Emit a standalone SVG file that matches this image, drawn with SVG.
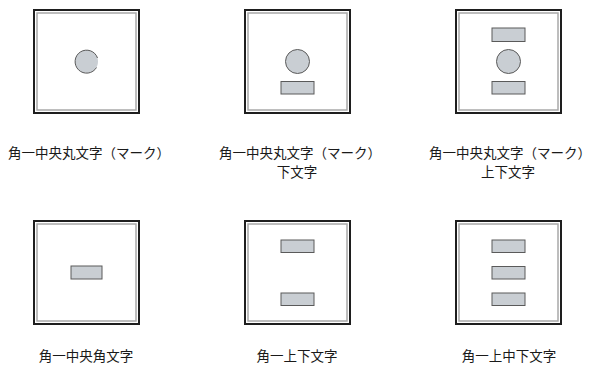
<svg xmlns="http://www.w3.org/2000/svg" width="590" height="370" viewBox="0 0 590 370">
<style>
.outer{fill:#fff;stroke:#1e1e1e;stroke-width:2}
.inner{fill:none;stroke:#a8a8a8;stroke-width:1.5}
.sh{fill:#c9ced3;stroke:#5a5a5a;stroke-width:1}
.lbl{font-family:"Noto Sans CJK JP","Noto Sans CJK SC",sans-serif;font-size:13.5px;fill:#1a1a1a;text-anchor:middle}
</style>
<defs>
<g id="frame">
<rect class="outer" x="0" y="0" width="105" height="103"/>
<rect class="inner" x="3" y="3" width="99" height="97"/>
<line x1="1" y1="103" x2="105" y2="103" stroke="#1e1e1e" stroke-width="2"/>
</g>
</defs>
<g id="node1">
<use href="#frame" x="34" y="10"/>
<circle cx="86.5" cy="61.5" r="11.5" fill="#c9ced3"/>
<path d="M 97.5 58 A 11.5 11.5 0 1 0 96.5 67.5" fill="none" stroke="#5a5a5a" stroke-width="1"/>
<text class="lbl" x="89" y="158">角一中央丸文字（マーク）</text>
</g>
<g id="node2">
<use href="#frame" x="245" y="10"/>
<circle class="sh" cx="297.5" cy="61.5" r="12"/>
<rect class="sh" x="281" y="81.5" width="33" height="12.5"/>
<text class="lbl" x="300" y="158">角一中央丸文字（マーク）</text>
<text class="lbl" x="297" y="177">下文字</text>
</g>
<g id="node3">
<use href="#frame" x="456" y="10"/>
<rect class="sh" x="492" y="28" width="33" height="13.5"/>
<circle class="sh" cx="508.5" cy="61.5" r="12"/>
<rect class="sh" x="492" y="81.5" width="33" height="12.5"/>
<text class="lbl" x="510" y="158">角一中央丸文字（マーク）</text>
<text class="lbl" x="508" y="177">上下文字</text>
</g>
<g id="node4">
<use href="#frame" x="34" y="221"/>
<rect class="sh" x="71" y="266" width="31" height="13"/>
<text class="lbl" x="86" y="361">角一中央角文字</text>
</g>
<g id="node5">
<use href="#frame" x="245" y="221"/>
<rect class="sh" x="281" y="240" width="33" height="12.5"/>
<rect class="sh" x="281" y="293" width="33" height="12.5"/>
<text class="lbl" x="297" y="361">角一上下文字</text>
</g>
<g id="node6">
<use href="#frame" x="456" y="221"/>
<rect class="sh" x="492" y="240" width="33" height="12.5"/>
<rect class="sh" x="492" y="266.5" width="33" height="12.5"/>
<rect class="sh" x="492" y="293" width="33" height="12.5"/>
<text class="lbl" x="509" y="361">角一上中下文字</text>
</g>
<g id="connectors"></g>
</svg>
